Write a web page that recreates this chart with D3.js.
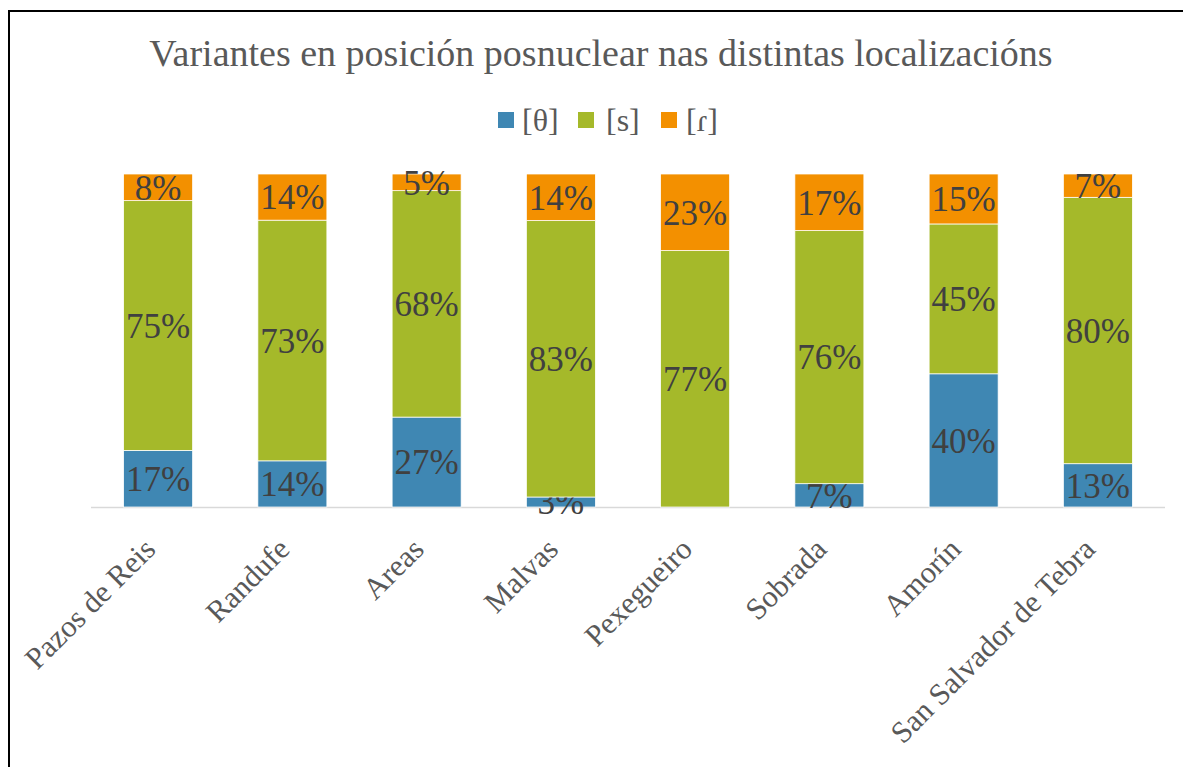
<!DOCTYPE html>
<html>
<head>
<meta charset="utf-8">
<script src="https://cdn.jsdelivr.net/npm/d3@7"></script>
<style>
html,body{margin:0;padding:0;background:#fff;}
svg{display:block;}
</style>
</head>
<body>
<svg id="chart" width="1183" height="767"></svg>
<script>
const title = "Variantes en posición posnuclear nas distintas localizacións";
const categories = ["Pazos de Reis","Randufe","Areas","Malvas","Pexegueiro","Sobrada","Amorín","San Salvador de Tebra"];
const seriesNames = ["[θ]","[s]","[ɾ]"];
const seriesColors = ["#3f87b3","#a5b92a","#f39000"];
const theta = [17,14,27,3,0,7,40,13];
const sVals = [75,73,68,83,77,76,45,80];
const rVals = [8,14,5,14,23,17,15,7];

const rows = categories.map((c,i)=>({cat:c, "[θ]":theta[i], "[s]":sVals[i], "[ɾ]":rVals[i]}));
const stack = d3.stack().keys(seriesNames).offset(d3.stackOffsetExpand);
const layers = stack(rows);

const svg = d3.select("#chart");
const serif = "'Liberation Serif','Times New Roman',serif";

// border
svg.append("path").attr("d","M9,767 L9,11 L1183,11").attr("fill","none").attr("stroke","#000").attr("stroke-width",2);

const x = d3.scaleBand().domain(categories).range([91,1165]).paddingInner(0.486).paddingOuter(0.243);
const y = d3.scaleLinear().domain([0,1]).range([507,174]);

svg.append("text").attr("x",601).attr("y",66).attr("text-anchor","middle")
  .attr("font-family",serif).attr("font-size",38).attr("fill","#595959").text(title);

// legend
const legendX = [498,578,661];
const legendTextX = [522,606,686];
seriesNames.forEach((n,i)=>{
  const g = svg.append("g");
  g.append("rect").attr("x",legendX[i]).attr("y",112).attr("width",16).attr("height",16).attr("fill",seriesColors[i]);
  g.append("text").attr("x",legendTextX[i]).attr("y",131).attr("font-family",serif).attr("font-size",32).attr("fill","#595959").text(n);
});

// axis line
svg.append("line").attr("x1",91).attr("x2",1165).attr("y1",507.5).attr("y2",507.5).attr("stroke","#d9d9d9").attr("stroke-width",1.5);

layers.forEach((layer,si)=>{
  const g = svg.append("g");
  g.selectAll("rect").data(layer).join("rect")
    .attr("x",d=>x(d.data.cat)).attr("width",x.bandwidth())
    .attr("y",d=>y(d[1])).attr("height",d=>y(d[0])-y(d[1]))
    .attr("fill",seriesColors[si]).attr("stroke","#fff").attr("stroke-width",0.75);
  g.selectAll("text").data(layer.filter(d=>d.data[seriesNames[si]]>0)).join("text")
    .attr("x",d=>x(d.data.cat)+x.bandwidth()/2)
    .attr("y",d=>(y(d[0])+y(d[1]))/2)
    .attr("dy","0.35em").attr("text-anchor","middle")
    .attr("font-family",serif).attr("font-size",35).attr("fill","#404040")
    .text(d=>d.data[seriesNames[si]]+"%");
});

// x labels
svg.append("g").selectAll("text").data(categories).join("text")
  .attr("transform",d=>`translate(${x(d)+x.bandwidth()/2-1},${551}) rotate(-45)`)
  .attr("text-anchor","end")
  .attr("font-family",serif).attr("font-size",30.5).attr("fill","#595959")
  .text(d=>d);
</script>
</body>
</html>
